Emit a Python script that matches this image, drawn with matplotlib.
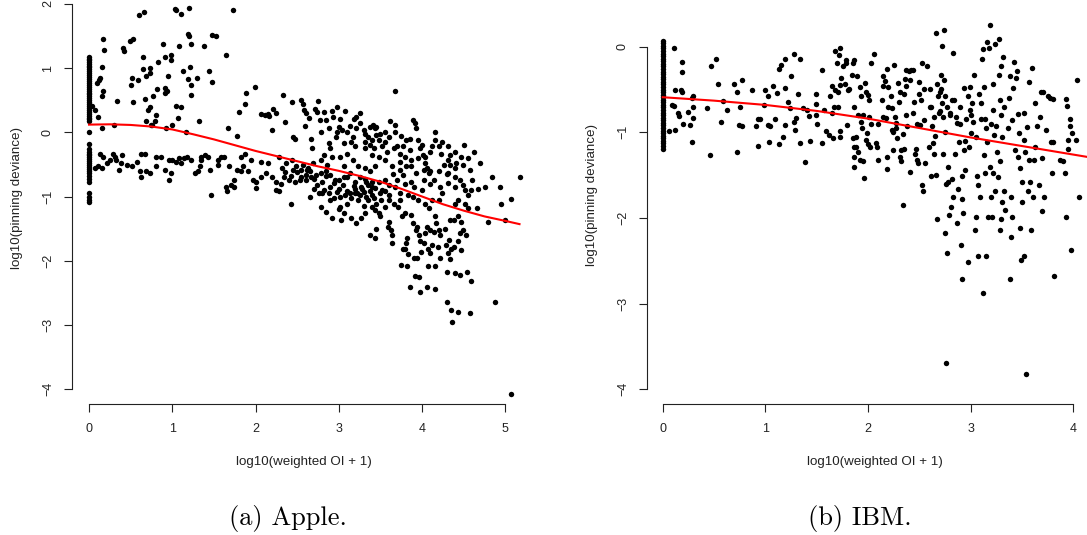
import numpy as np
import matplotlib
matplotlib.use('Agg')
from matplotlib import pyplot as plt

plt.rcParams['font.family'] = 'Liberation Sans'

####################
# Data
####################

# Apple: points stacked at x = 0
apple_col0_y = [1.18, 1.15, 1.12, 1.10, 1.07, 1.04, 1.01, 0.98, 0.95, 0.92, 0.89, 0.86,
                0.83, 0.80, 0.77, 0.74, 0.71, 0.68, 0.65, 0.62, 0.59, 0.56, 0.53, 0.50,
                0.47, 0.44, 0.41, 0.38, 0.35, 0.32, 0.29, 0.26, 0.23, 0.20, 0.17, 0.00,
                -0.18, -0.26, -0.30, -0.33, -0.36, -0.39, -0.42, -0.45, -0.48, -0.51,
                -0.54, -0.57, -0.60, -0.64, -0.68, -0.72, -0.78, -0.95, -1.00, -1.05, -1.08]

# Apple: remaining points (x, y)
apple_pts = [
    (0.60, 1.83), (0.66, 1.87), (1.03, 1.92), (1.04, 1.90), (1.11, 1.85), (1.20, 1.93), (1.73, 1.90),
    (0.17, 1.45), (0.18, 1.29), (0.41, 1.31), (0.42, 1.27), (0.49, 1.43), (0.53, 1.46), (0.89, 1.38),
    (0.99, 1.21), (1.08, 1.34), (1.19, 1.53), (1.20, 1.50), (1.23, 1.37), (1.38, 1.35), (1.48, 1.52),
    (1.52, 1.50), (1.64, 1.20), (0.65, 1.17), (0.91, 1.18), (0.98, 1.12), (0.83, 1.10), (0.15, 1.02),
    (0.65, 0.99), (0.73, 1.00), (0.68, 0.88), (0.73, 0.92), (0.95, 0.88), (1.13, 0.96), (1.21, 1.01),
    (1.44, 0.96), (1.48, 0.79), (1.30, 0.84), (1.19, 0.83), (1.22, 0.74), (1.23, 0.58), (1.99, 0.70),
    (1.88, 0.61), (0.52, 0.84), (0.59, 0.82), (0.50, 0.74), (0.13, 0.84), (0.12, 0.82), (0.09, 0.77),
    (0.17, 0.64), (0.15, 0.56), (0.82, 0.67), (0.91, 0.69), (0.94, 0.65), (0.91, 0.61), (0.77, 0.56),
    (0.67, 0.52), (0.34, 0.49), (0.53, 0.48), (0.71, 0.35), (0.73, 0.40), (1.04, 0.41), (1.11, 0.39),
    (1.07, 0.22), (0.80, 0.27), (0.69, 0.17), (0.79, 0.17), (0.74, 0.11), (0.76, 0.11), (1.00, 0.11),
    (0.93, 0.06), (1.32, 0.17), (0.04, 0.41), (0.07, 0.35), (0.11, 0.24), (0.16, 0.06), (0.30, 0.11),
    (1.17, 0.00), (1.67, 0.06), (1.78, -0.06), (1.80, 0.31), (1.87, 0.44), (2.06, 0.29), (2.11, 0.27),
    (2.15, 0.29), (2.21, 0.37), (2.16, 0.25), (2.20, 0.04), (2.25, 0.30), (2.33, 0.58), (2.35, 0.16),
    (2.44, 0.48), (2.45, -0.07), (2.47, -0.11), (2.55, 0.51), (2.57, 0.44), (2.58, 0.35), (2.60, 0.30),
    (2.64, 0.23), (2.59, 0.10), (2.71, 0.37), (2.75, 0.49), (2.74, 0.32), (2.77, 0.19), (2.78, 0.01),
    (2.67, -0.11), (2.68, -0.25), (2.82, 0.31), (2.85, 0.19), (2.88, 0.07), (2.92, 0.33), (2.93, 0.24),
    (2.98, 0.40), (3.01, 0.21), (3.00, 0.09), (2.98, 0.01), (2.97, -0.07), (3.04, 0.04), (3.07, 0.33),
    (3.13, 0.10), (3.18, 0.21), (3.21, 0.24), (3.25, 0.30), (3.26, 0.14), (3.30, 0.04), (3.21, 0.06),
    (3.17, -0.07), (3.19, -0.22), (3.31, -0.15), (3.35, -0.07), (3.37, -0.20), (3.41, 0.11), (3.44, 0.06),
    (3.45, -0.04), (3.42, -0.25), (3.40, -0.35), (3.48, -0.12), (3.52, -0.22), (3.56, -0.15), (3.58, -0.30),
    (3.62, 0.17), (3.68, 0.65), (3.68, 0.11), (3.68, 0.01), (3.66, -0.25), (3.70, -0.22), (3.74, -0.33),
    (3.73, -0.46), (3.77, -0.66), (3.79, -0.38), (3.81, -0.12), (3.85, -0.28), (3.87, -0.43), (3.87, -0.78),
    (3.89, 0.19), (3.91, 0.14), (3.93, 0.06), (3.95, -0.12), (3.98, -0.25), (4.01, -0.35), (4.04, -0.48),
    (4.06, -0.56), (4.08, -0.64), (4.02, -0.59), (4.10, -0.30), (4.12, -0.22), (4.15, -0.12), (4.16, 0.00),
    (4.20, -0.22), (4.24, -0.15), (4.23, -0.33), (4.26, -0.51), (4.31, -0.43), (4.31, -0.64), (4.34, -0.35),
    (4.39, -0.56), (4.41, -0.48), (4.45, -0.74), (4.49, -0.51), (4.47, -0.38), (4.55, -0.40), (4.58, -0.59),
    (4.62, -0.30), (4.49, -0.82), (4.52, -0.90), (4.55, -0.98), (4.59, -0.90), (4.60, -0.74), (4.66, -1.18),
    (4.67, -0.89), (4.70, -0.48), (4.76, -0.85), (4.84, -0.69), (4.93, -0.85), (4.95, -1.11), (5.07, -1.04),
    (5.00, -1.36), (5.17, -0.69), (4.79, -1.39), (4.87, -2.65), (5.07, -4.08), (4.57, -2.82), (4.54, -2.17),
    (4.59, -2.31), (4.30, -2.64), (4.35, -2.77), (4.43, -2.80), (4.36, -2.95), (4.30, -2.17), (4.40, -2.19),
    (4.45, -2.22), (4.16, -2.44), (4.06, -2.41), (3.97, -2.48), (3.85, -2.41), (3.91, -2.24), (3.96, -2.26),
    (3.75, -2.07), (3.82, -2.09), (4.07, -2.08), (4.15, -2.08), (3.90, -1.95), (3.94, -1.95), (3.83, -1.90),
    (3.80, -1.81), (3.77, -1.81), (3.81, -1.73), (3.82, -1.65), (3.64, -1.73), (3.64, -1.60), (3.63, -1.52),
    (3.59, -1.47), (3.45, -1.51), (3.44, -1.65), (3.38, -1.60), (4.07, -1.81), (4.09, -1.88), (4.12, -1.75),
    (3.99, -1.86), (4.02, -1.73), (4.04, -1.57), (4.06, -1.47), (4.10, -1.52), (4.14, -1.55), (4.17, -1.42),
    (4.15, -1.31), (4.20, -1.52), (4.22, -1.60), (4.19, -1.78), (4.21, -1.96), (4.29, -1.75), (4.32, -1.68),
    (4.35, -1.81), (4.38, -1.78), (4.31, -1.88), (4.33, -1.98), (4.28, -1.50), (4.33, -1.37), (4.38, -1.37),
    (4.43, -1.31), (4.47, -1.39), (4.49, -1.52), (4.53, -1.60), (4.45, -1.57), (4.47, -1.84), (4.43, -1.70),
    (4.40, -1.11), (4.43, -1.05), (4.52, -1.11), (4.55, -1.18), (4.24, -0.95), (4.20, -1.05), (3.93, -1.52),
    (3.96, -1.60), (3.98, -1.70), (3.94, -1.47), (3.89, -1.42), (3.87, -1.29), (3.79, -1.26), (3.76, -1.31),
    (3.71, -1.16), (3.73, -1.05), (3.66, -1.11), (3.60, -1.05), (3.56, -1.16), (3.51, -1.05), (3.48, -1.26),
    (3.44, -1.21), (3.40, -1.16), (3.31, -1.26), (3.27, -1.34), (3.21, -1.42), (3.15, -1.34), (3.06, -1.26),
    (3.03, -1.37), (2.92, -1.34), (2.84, -1.24), (2.78, -1.16), (2.65, -1.00), (2.42, -1.12), (2.28, -0.92),
    (2.24, -0.90), (3.02, -1.16), (3.10, -1.11), (3.23, -1.05), (3.33, -1.00), (3.19, -0.95), (3.13, -0.95),
    (3.02, -1.00), (2.94, -1.03), (2.88, -0.95), (2.82, -0.90), (2.74, -0.82), (2.76, -0.95), (3.27, -0.85),
    (3.35, -0.82), (3.44, -0.87), (3.52, -0.90), (3.60, -0.82), (3.68, -0.85), (3.74, -0.95), (3.83, -0.98),
    (3.89, -1.00), (3.95, -1.05), (4.04, -1.11), (4.08, -1.18), (4.12, -1.05), (3.25, -0.69), (3.31, -0.72),
    (3.40, -0.77), (3.48, -0.77), (3.56, -0.74), (3.13, -0.64), (3.06, -0.69), (3.00, -0.74), (2.94, -0.79),
    (2.90, -0.66), (2.84, -0.61), (2.78, -0.64), (2.67, -0.69), (2.61, -0.74), (2.53, -0.74), (2.47, -0.77),
    (2.40, -0.74), (2.34, -0.69), (2.30, -0.80), (2.24, -0.77), (2.20, -0.69), (2.13, -0.64), (2.07, -0.69),
    (2.01, -0.77), (2.01, -0.87), (1.97, -0.74), (1.91, -0.61), (1.85, -0.53), (1.82, -0.61), (1.78, -0.59),
    (1.74, -0.74), (1.70, -0.82), (1.66, -0.92), (1.64, -0.85), (1.68, -0.53), (1.62, -0.38), (1.55, -0.43),
    (1.55, -0.51), (1.47, -0.98), (1.45, -0.59), (1.43, -0.38), (1.39, -0.35), (1.35, -0.38), (1.33, -0.53),
    (1.31, -0.61), (1.27, -0.64), (1.22, -0.43), (1.18, -0.38), (1.14, -0.40), (1.10, -0.48), (1.08, -0.40),
    (1.04, -0.46), (1.00, -0.43), (0.96, -0.43), (0.98, -0.64), (0.96, -0.74), (0.91, -0.59), (0.87, -0.38),
    (0.81, -0.38), (0.81, -0.53), (0.73, -0.64), (0.69, -0.61), (0.67, -0.33), (0.63, -0.33), (0.61, -0.61),
    (0.63, -0.69), (0.58, -0.46), (0.52, -0.53), (0.46, -0.51), (0.40, -0.35), (0.38, -0.48), (0.36, -0.59),
    (0.31, -0.38), (0.29, -0.33), (0.25, -0.43), (0.21, -0.48), (0.17, -0.38), (0.13, -0.33), (0.11, -0.53),
    (0.07, -0.56), (0.15, -0.56), (0.33, -0.43), (1.35, -0.43), (1.58, -0.38), (1.74, -0.85), (1.82, -0.38),
    (1.87, -0.33), (1.95, -0.43), (2.07, -0.46), (2.15, -0.48), (2.28, -0.38), (2.36, -0.48), (2.44, -0.43),
    (2.48, -0.53), (2.55, -0.59), (2.57, -0.51), (2.63, -0.56), (2.69, -0.48), (2.78, -0.43), (2.82, -0.35),
    (2.86, -0.51), (2.92, -0.38), (3.02, -0.38), (3.06, -0.53), (3.10, -0.33), (3.17, -0.43), (3.23, -0.53),
    (3.31, -0.56), (3.37, -0.61), (3.44, -0.53), (3.48, -0.38), (3.56, -0.43), (3.64, -0.53), (3.73, -0.59),
    (3.81, -0.53), (3.93, -0.64), (4.02, -0.74), (4.14, -0.74), (4.22, -0.85), (4.31, -0.79), (4.39, -0.85),
    (4.04, -0.38), (3.87, -0.53), (3.77, -0.22), (3.60, -0.07), (3.50, -0.02), (3.31, -0.25), (3.37, 0.09),
    (3.32, -0.02), (3.40, -0.12), (3.15, -0.15), (3.06, -0.17), (3.10, 0.01), (2.88, -0.17), (2.90, -0.25),
    (4.39, -0.69), (4.31, -0.22), (4.34, -0.51), (4.10, -0.61),
    (2.50, -0.62), (2.60, -0.66), (2.70, -0.72), (2.80, -0.78), (2.90, -0.85), (3.00, -0.88), (3.10, -0.92),
    (3.20, -0.88), (3.30, -0.93), (3.40, -0.97), (3.50, -0.95), (3.35, -1.05), (3.25, -0.98), (3.15, -1.02),
    (3.05, -0.82), (2.95, -0.75), (2.85, -0.68), (2.65, -0.60), (2.55, -0.70), (2.45, -0.58), (2.35, -0.62),
    (2.70, -0.88), (2.90, -1.05), (3.45, -1.12), (3.55, -0.92), (3.60, -0.98), (3.70, -0.75), (3.80, -0.80),
    (3.90, -0.85), (3.65, -0.65), (3.20, -0.78), (3.40, -0.85), (3.10, -0.70), (2.80, -0.95), (3.00, -1.20),
    (3.30, -1.15), (3.50, -1.30), (3.60, -1.40), (4.00, -0.90), (4.10, -0.80), (4.20, -0.60), (4.30, -0.65),
    (4.40, -0.30), (4.50, -0.20), (4.00, -0.20), (3.95, -0.40), (3.85, -0.10), (3.75, -0.05), (3.55, 0.00),
    (3.45, 0.08), (3.28, -0.89), (3.38, -0.91), (3.33, -0.78), (3.22, -0.95), (3.42, -1.02), (3.18, -0.84),
    (2.98, -0.93), (3.08, -0.97), (2.72, -0.66), (2.62, -0.58), (2.42, -0.68), (2.32, -0.56),
]

# Apple: red smooth fit
apple_fit_x = [0.0, 0.25, 0.5, 0.75, 1.0, 1.25, 1.5, 1.75, 2.0, 2.25, 2.5, 2.75, 3.0,
               3.25, 3.5, 3.75, 4.0, 4.25, 4.5, 4.75, 5.0, 5.17]
apple_fit_y = [0.12, 0.125, 0.115, 0.09, 0.045, -0.03, -0.11, -0.20, -0.29, -0.37, -0.45, -0.53, -0.60,
               -0.68, -0.77, -0.88, -1.00, -1.12, -1.22, -1.31, -1.38, -1.43]

# IBM: points stacked at x = 0
ibm_col0_y = [0.07, 0.04, 0.01, -0.02, -0.05, -0.08, -0.11, -0.14, -0.17, -0.20, -0.23, -0.26,
              -0.29, -0.32, -0.35, -0.38, -0.41, -0.44, -0.47, -0.50, -0.53, -0.56, -0.59, -0.62,
              -0.65, -0.68, -0.71, -0.74, -0.77, -0.80, -0.83, -0.86, -0.89, -0.92, -0.95, -0.98,
              -1.01, -1.04, -1.07, -1.10, -1.13, -1.16, -1.19]

# IBM: remaining points (x, y)
ibm_pts = [
    (0.11, -0.02), (0.19, -0.18), (0.19, -0.30), (0.12, -0.50), (0.18, -0.51), (0.19, -0.53), (0.09, -0.68),
    (0.11, -0.69), (0.15, -0.78), (0.16, -0.81), (0.12, -0.97), (0.06, -0.99), (0.20, -0.90), (0.25, -0.76),
    (0.27, -0.91), (0.29, -0.60), (0.30, -0.57), (0.30, -0.70), (0.30, -0.83), (0.29, -1.11), (0.43, -0.72),
    (0.47, -0.23), (0.52, -0.14), (0.54, -0.44), (0.57, -0.88), (0.59, -0.63), (0.63, -0.74), (0.46, -1.27),
    (0.69, -0.44), (0.72, -0.53), (0.77, -0.39), (0.75, -0.70), (0.74, -0.92), (0.77, -0.93), (0.72, -1.23),
    (0.87, -0.50), (0.91, -0.93), (0.93, -0.84), (0.95, -0.84), (0.93, -1.16), (1.00, -0.50), (0.99, -0.68),
    (1.03, -0.57), (1.03, -0.92), (1.05, -0.93), (1.04, -1.11), (1.07, -0.46), (1.09, -0.84), (1.13, -0.26),
    (1.15, -0.21), (1.19, -0.14), (1.11, -0.54), (1.13, -1.14), (1.17, -1.06), (1.19, -0.92), (1.19, -0.48),
    (1.22, -0.64), (1.24, -0.72), (1.25, -0.34), (1.28, -0.08), (1.28, -0.88), (1.30, -0.83), (1.29, -0.97),
    (1.32, -0.55), (1.34, -0.14), (1.34, -1.12), (1.37, -0.72), (1.39, -1.35), (1.41, -0.74), (1.43, -0.81),
    (1.44, -1.10), (1.49, -0.67), (1.49, -0.55), (1.49, -0.80), (1.50, -0.90), (1.55, -0.27), (1.55, -1.13),
    (1.57, -0.74), (1.59, -0.99), (1.62, -1.03), (1.66, -1.07), (1.63, -0.58), (1.65, -0.46), (1.65, -0.77),
    (1.68, -0.05), (1.70, -0.19), (1.68, -0.51), (1.67, -0.70), (1.71, -0.71), (1.73, -0.02), (1.72, -0.10),
    (1.73, -0.45), (1.71, -0.53), (1.74, -0.37), (1.73, -0.99), (1.73, -1.05), (1.76, -0.23), (1.79, -0.19),
    (1.79, -0.16), (1.78, -0.43), (1.80, -0.92), (1.81, -0.51), (1.82, -0.49), (1.84, -0.33), (1.85, -0.19),
    (1.86, -0.16), (1.85, -1.07), (1.86, -0.71), (1.86, -1.17), (1.86, -1.29), (1.86, -1.40), (1.88, -1.17),
    (1.89, -0.34), (1.88, -1.05), (1.90, -0.80), (1.90, -1.23), (1.92, -1.32), (1.92, -0.47), (1.93, -0.58),
    (1.93, -0.88), (1.94, -0.95), (1.95, -1.34), (1.96, -1.53), (1.97, -0.42), (1.98, -0.53), (1.99, -1.01),
    (1.98, -1.09), (2.00, -1.14), (2.00, -0.56), (2.02, -1.17), (2.03, -0.19), (2.01, -0.62), (2.01, -0.82),
    (2.03, -0.90), (2.06, -0.09), (2.08, -1.13), (2.09, -1.17), (2.10, -1.32), (2.14, -0.62), (2.15, -0.82),
    (2.15, -0.34), (2.15, -0.46), (2.17, -0.40), (2.18, -0.83), (2.19, -1.43), (2.19, -1.29), (2.19, -0.26),
    (2.20, -0.47), (2.22, -0.58), (2.23, -0.72), (2.23, -0.97), (2.24, -1.00), (2.24, -1.21), (2.25, -0.21),
    (2.26, -0.82), (2.27, -0.89), (2.27, -0.95), (2.28, -1.07), (2.29, -0.42), (2.30, -0.64), (2.31, -0.53),
    (2.31, -1.29), (2.32, -1.21), (2.32, -1.33), (2.34, -1.02), (2.34, -1.85), (2.35, -1.19), (2.36, -0.38),
    (2.37, -0.80), (2.37, -0.46), (2.37, -0.27), (2.38, -0.93), (2.40, -0.28), (2.41, -1.46), (2.41, -0.39),
    (2.42, -0.27), (2.44, -0.78), (2.44, -0.27), (2.46, -1.25), (2.47, -1.19), (2.48, -0.90), (2.48, -1.32),
    (2.49, -1.36), (2.50, -0.41), (2.51, -0.92), (2.52, -0.62), (2.53, -0.19), (2.53, -1.62), (2.54, -1.69),
    (2.55, -0.49), (2.55, -0.86), (2.56, -1.36), (2.58, -0.23), (2.59, -1.17), (2.60, -0.49), (2.61, -0.70),
    (2.61, -1.51), (2.62, -0.93), (2.63, -1.13), (2.64, -1.25), (2.64, -0.82), (2.65, -1.04), (2.66, 0.16),
    (2.67, -0.43), (2.68, -0.58), (2.66, -1.50), (2.67, -2.01), (2.69, -0.78), (2.70, -0.53), (2.71, -0.33),
    (2.71, -0.49), (2.72, -0.66), (2.72, 0.01), (2.73, -0.82), (2.73, -1.25), (2.74, 0.19), (2.74, -0.39),
    (2.75, -0.58), (2.75, -2.18), (2.76, -3.69), (2.77, -2.41), (2.76, -1.60), (2.77, -0.70), (2.78, -1.40),
    (2.78, -1.58), (2.79, -1.97), (2.80, -0.77), (2.81, -1.87), (2.82, -0.62), (2.82, -1.54), (2.83, -0.07),
    (2.83, -1.76), (2.84, -0.62), (2.85, -1.25), (2.86, -0.82), (2.87, -2.06), (2.87, -0.89), (2.88, -1.66),
    (2.89, -1.11), (2.90, -0.71), (2.91, -2.32), (2.92, -1.78), (2.92, -2.71), (2.92, -1.51), (2.93, -1.94),
    (2.94, -0.48), (2.94, -1.21), (2.95, -1.44), (2.96, -0.84), (2.97, -0.58), (2.97, -2.51), (2.98, -1.17),
    (2.99, -0.74), (2.99, -0.47), (3.00, -1.01), (3.01, -0.66), (3.02, -0.88), (3.03, -0.33), (3.04, -2.14),
    (3.05, -1.05), (3.05, -1.99), (3.06, -1.51), (3.07, -1.62), (3.07, -2.45), (3.08, -0.55), (3.09, -1.76),
    (3.10, -0.66), (3.11, -0.14), (3.12, -2.88), (3.12, -0.03), (3.13, -1.27), (3.13, -0.47), (3.14, -1.48),
    (3.14, -0.84), (3.15, -2.45), (3.16, -1.11), (3.16, 0.05), (3.17, -1.99), (3.18, -0.02), (3.19, 0.25),
    (3.19, -1.40), (3.20, -1.75), (3.21, -1.99), (3.22, -0.74), (3.22, -0.43), (3.22, -1.48), (3.23, -1.03),
    (3.24, 0.03), (3.24, -1.69), (3.25, -0.93), (3.26, -1.23), (3.27, -1.52), (3.28, 0.09), (3.28, -0.33),
    (3.29, -0.62), (3.29, -2.14), (3.29, -1.34), (3.30, -0.23), (3.30, -2.01), (3.31, -1.81), (3.31, -1.05),
    (3.32, -0.12), (3.33, -0.70), (3.33, -1.68), (3.34, -1.91), (3.36, -0.95), (3.37, -0.60), (3.38, -0.34),
    (3.38, -2.71), (3.39, -2.22), (3.39, -1.75), (3.40, -1.99), (3.40, -0.86), (3.41, -0.48), (3.42, -0.18),
    (3.43, -1.21), (3.44, -0.36), (3.45, -0.28), (3.46, -0.79), (3.46, -1.29), (3.47, -1.01), (3.48, -1.42),
    (3.48, -2.12), (3.49, -2.49), (3.50, -1.81), (3.50, -1.58), (3.52, -0.78), (3.52, -2.45), (3.52, -1.09),
    (3.53, -1.23), (3.54, -3.82), (3.55, -0.94), (3.56, -1.69), (3.57, -1.32), (3.57, -0.41), (3.58, -1.58),
    (3.59, -2.14), (3.60, -0.25), (3.61, -1.76), (3.62, -1.32), (3.63, -0.66), (3.63, -1.17), (3.65, -0.93),
    (3.67, -1.62), (3.68, -0.82), (3.69, -0.53), (3.70, -1.92), (3.71, -0.53), (3.72, -1.76), (3.70, -1.30),
    (3.73, -0.97), (3.75, -0.58), (3.77, -0.60), (3.78, -1.11), (3.79, -1.48), (3.80, -0.61), (3.80, -1.11),
    (3.81, -2.68), (3.87, -1.32), (3.90, -1.34), (3.92, -1.47), (3.93, -0.61), (3.94, -0.69), (3.93, -1.99),
    (3.95, -1.09), (3.97, -0.84), (3.97, -0.93), (3.99, -1.01), (3.98, -2.38), (4.03, -1.09), (4.04, -0.39),
    (4.06, -1.76), (3.95, -1.20),
    (2.60, -0.70), (2.70, -0.75), (2.80, -0.80), (2.90, -0.90), (3.00, -0.80), (3.10, -0.85), (3.20, -0.90),
    (3.30, -0.80), (2.50, -0.55), (2.45, -0.65), (2.35, -0.55), (2.20, -0.70), (2.10, -0.90), (1.95, -0.80),
    (2.75, -1.00), (2.95, -1.10), (3.15, -0.95),
]

# IBM: red smooth fit
ibm_fit_x = [0.0, 0.5, 1.0, 1.5, 2.0, 2.5, 3.0, 3.5, 4.0, 4.2]
ibm_fit_y = [-0.59, -0.63, -0.68, -0.75, -0.84, -0.95, -1.06, -1.16, -1.26, -1.30]

panels = [
    dict(col0=apple_col0_y, pts=apple_pts, fx=apple_fit_x, fy=apple_fit_y,
         xticks=[0, 1, 2, 3, 4, 5], yticks=[-4, -3, -2, -1, 0, 1, 2],
         xlim=(-0.208, 5.38), ylim=(-4.232, 2.2),
         rect=(71.7, 537.0, -8.9), ylab_x=16.7, caption='(a) Apple.', cap_x=288),
    dict(col0=ibm_col0_y, pts=ibm_pts, fx=ibm_fit_x, fy=ibm_fit_y,
         xticks=[0, 1, 2, 3, 4], yticks=[-4, -3, -2, -1, 0],
         xlim=(-0.156, 4.30), ylim=(-4.174, 0.7),
         rect=(646.7, 1104.0, -13.2), ylab_x=592, caption='(b) IBM.', cap_x=860),
]

W, H = 1087, 535
bottom_px = 404.0

fig = plt.figure(figsize=(W / 100, H / 100), dpi=100)

for p in panels:
    left, right, top = p['rect']
    ax = fig.add_axes([left / W, (H - bottom_px) / H, (right - left) / W, (bottom_px - top) / H])
    ax.patch.set_alpha(0)

    xs = [0.0] * len(p['col0']) + [q[0] for q in p['pts']]
    ys = list(p['col0']) + [q[1] for q in p['pts']]
    ax.plot(xs, ys, 'o', color='black', markersize=3.9, markeredgewidth=0, clip_on=False)
    ax.plot(p['fx'], p['fy'], color='#ff0000', lw=1.5, clip_on=True)

    ax.set_xlim(*p['xlim'])
    ax.set_ylim(*p['ylim'])
    ax.set_xticks(p['xticks'])
    ax.set_yticks(p['yticks'])
    ax.set_yticklabels([str(t).replace('-', '\u2212') for t in p['yticks']],
                       rotation=90, va='center')
    ax.set_xticklabels([str(t) for t in p['xticks']])

    for s in ['top', 'right']:
        ax.spines[s].set_visible(False)
    ax.spines['left'].set_bounds(p['yticks'][0], p['yticks'][-1])
    ax.spines['bottom'].set_bounds(p['xticks'][0], p['xticks'][-1])
    for s in ['left', 'bottom']:
        ax.spines[s].set_linewidth(0.8)
        ax.spines[s].set_color('#222222')
    ax.tick_params(direction='out', length=5.8, width=0.8, color='#222222',
                   labelsize=9, labelcolor='#222222')
    ax.tick_params(axis='x', pad=8.0)
    ax.tick_params(axis='y', pad=7.0)

    cx = (left + right) / 2
    fig.text(cx / W, 1 - 462 / H, 'log10(weighted OI + 1)', ha='center', va='center',
             fontsize=9.6, color='#222222')
    fig.text(p['ylab_x'] / W, 1 - (top + bottom_px) / 2 / H, 'log10(pinning deviance)',
             rotation=90, ha='center', va='center', fontsize=9.6, color='#222222')
    fig.text(p['cap_x'] / W, 1 - 518 / H, p['caption'], family='cmr10', fontsize=19,
             ha='center', va='center', color='black')

fig.savefig('out.png', dpi=100)
